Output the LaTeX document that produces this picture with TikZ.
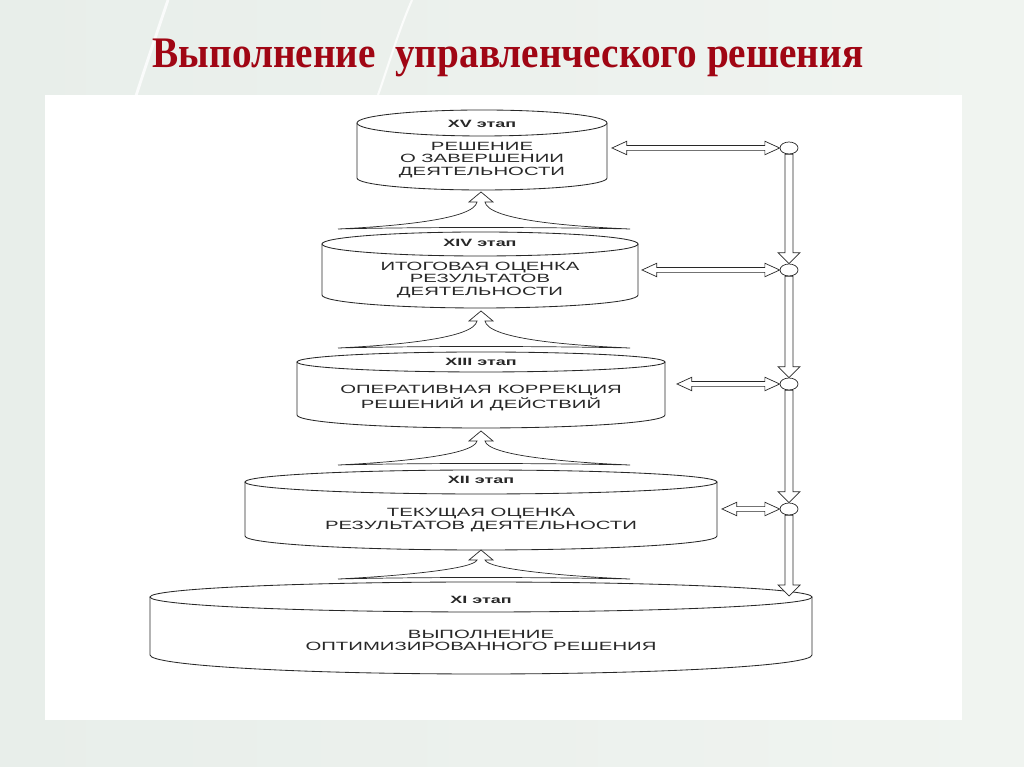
\documentclass[tikz,border=0pt]{standalone}
\usepackage{fontspec}
\setmainfont{Liberation Serif}
\newfontfamily\titlefont[FakeStretch=0.9]{Liberation Serif}
\newfontfamily\stagefont[FakeStretch=1.7]{Liberation Sans}
\usetikzlibrary{shapes.geometric,calc}

\definecolor{titlered}{RGB}{160,6,20}
\definecolor{bgleft}{RGB}{232,238,234}
\definecolor{bgmid}{RGB}{212,230,238}
\definecolor{bgright}{RGB}{240,244,240}
\definecolor{ink}{RGB}{40,40,40}

\tikzset{
  cyl/.style={draw=ink, line width=0.6pt, fill=white},
  hollow/.style={draw=ink, line width=0.5pt, fill=white, line join=miter},
  hub/.style={ellipse, draw=ink, line width=0.5pt, minimum width=0.45cm, minimum height=0.3cm, inner sep=0pt},
  lbl/.style={font=\stagefont\bfseries\fontsize{7.5}{8}\selectfont, text=ink, inner sep=0pt},
  txt/.style={font=\stagefont\fontsize{8.5}{8.6}\selectfont, text=ink, align=center, inner sep=0pt},
}

% cylinder: left x, right x, top y, top radius, bottom y, bottom radius
\newcommand\stagecyl[6]{%
  \draw[cyl] (#1,#3) -- (#1,#5) arc[start angle=180, end angle=360, x radius={(#2-#1)/2}, y radius=#6] -- (#2,#3);
  \draw[cyl] ({(#1+#2)/2},#3) ellipse [x radius={(#2-#1)/2}, y radius=#4];}

% wide arrow between two stages: tip y, base y
\newcommand\fan[2]{%
  \draw[hollow] (481,#1) -- (493,#1-10) -- (485,#1-10)
    .. controls (488,#2+10) and (560,#2+3) .. (630,#2)
    .. controls (540,#2+2) and (420,#2+2) .. (338,#2)
    .. controls (400,#2+3) and (474,#2+10) .. (477,#1-10) -- (469,#1-10) -- cycle;}

% hollow arrows
\newcommand\hollowlr[2]{%
  \draw[hollow] let \p1=(#1), \p2=(#2) in
    (\x1,\y1) -- (\x1+10.5pt,\y1+4.8pt) -- (\x1+10.5pt,\y1+1.7pt) -- (\x2-10.5pt,\y1+1.7pt)
    -- (\x2-10.5pt,\y1+4.8pt) -- (\x2,\y1) -- (\x2-10.5pt,\y1-4.8pt) -- (\x2-10.5pt,\y1-1.7pt)
    -- (\x1+10.5pt,\y1-1.7pt) -- (\x1+10.5pt,\y1-4.8pt) -- cycle;}
\newcommand\hollowdown[2]{%
  \draw[hollow] let \p1=(#1), \p2=(#2) in
    (\x1-2.8pt,\y1) -- (\x1-2.8pt,\y2+7.8pt) -- (\x1-7.8pt,\y2+7.8pt) -- (\x1,\y2)
    -- (\x1+7.8pt,\y2+7.8pt) -- (\x1+2.8pt,\y2+7.8pt) -- (\x1+2.8pt,\y1) -- cycle;}

\begin{document}
\begin{tikzpicture}[x=0.025cm,y=0.025cm]
  \useasboundingbox (0,0) rectangle (1024,767);
  % slide background
  \shade[left color=bgleft, middle color=bgmid, right color=bgright] (0,0) rectangle (1024,767);
  \draw[white, line width=2pt, opacity=0.8] (168,767) .. controls (125,640) and (98,560) .. (88,470);
  \draw[white, line width=1.5pt, opacity=0.8] (412,767) .. controls (398,735) and (388,700) .. (378,672);
  \fill[white] (45,47) rectangle (962,672);

  \node[font=\titlefont\bfseries\fontsize{31}{31}\selectfont, text=titlered, anchor=base] (title) at (508,699)
    {Выполнение\ \ управленческого решения};

  % stages
  \stagecyl{357}{607}{644}{13}{589}{12}
  \stagecyl{322}{638}{523}{12}{472}{13}
  \stagecyl{297}{665}{405}{10}{352}{13}
  \stagecyl{245}{717}{285}{12}{231}{14}
  \stagecyl{150}{812}{170}{15}{112}{19}

  \node[lbl] (l15) at (482,643) {XV этап};
  \node[txt] (s15) at (482,607) {РЕШЕНИЕ\\О ЗАВЕРШЕНИИ\\ДЕЯТЕЛЬНОСТИ};
  \node[lbl] (l14) at (480,524) {XIV этап};
  \node[txt] (s14) at (480,487) {ИТОГОВАЯ ОЦЕНКА\\РЕЗУЛЬТАТОВ\\ДЕЯТЕЛЬНОСТИ};
  \node[lbl] (l13) at (481,405) {XIII этап};
  \node[txt] (s13) at (481,369) {ОПЕРАТИВНАЯ КОРРЕКЦИЯ\\РЕШЕНИЙ И ДЕЙСТВИЙ};
  \node[lbl] (l12) at (481,287) {XII этап};
  \node[txt] (s12) at (481,247) {ТЕКУЩАЯ ОЦЕНКА\\РЕЗУЛЬТАТОВ ДЕЯТЕЛЬНОСТИ};
  \node[lbl] (l11) at (481,167) {XI этап};
  \node[txt] (s11) at (481,127) {ВЫПОЛНЕНИЕ\\ОПТИМИЗИРОВАННОГО РЕШЕНИЯ};

  \fan{575}{538}
  \fan{456}{419}
  \fan{336}{302}
  \fan{217}{188}

  % control loop on the right
  \node[hub] (o15) at (789,619) {};
  \node[hub] (o14) at (789,497) {};
  \node[hub] (o13) at (789,383) {};
  \node[hub] (o12) at (789,258) {};
  \coordinate (a15) at (612,619);
  \coordinate (a14) at (642,497);
  \coordinate (a13) at (677,383);
  \coordinate (a12) at (722,258);
  \coordinate (t11) at (789,171);

  \hollowlr{a15}{o15.west}
  \hollowlr{a14}{o14.west}
  \hollowlr{a13}{o13.west}
  \hollowlr{a12}{o12.west}
  \hollowdown{o15.south}{o14.north}
  \hollowdown{o14.south}{o13.north}
  \hollowdown{o13.south}{o12.north}
  \hollowdown{o12.south}{t11}
\end{tikzpicture}
\end{document}
